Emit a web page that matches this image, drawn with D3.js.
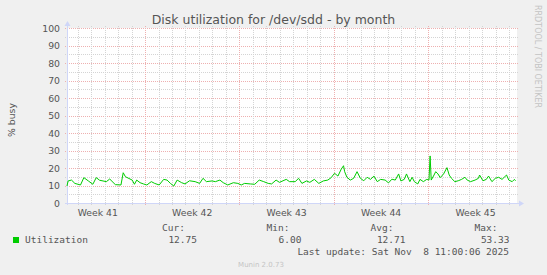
<!DOCTYPE html>
<html>
<head>
<meta charset="utf-8">
<script src="https://cdn.jsdelivr.net/npm/d3@7"></script>
<style>
  body { margin: 0; background: #f0f0f0; }
  svg { display: block; }
</style>
</head>
<body>
<div id="chart"></div>
<script>
// hours after the graph start and the % busy at that time
const hoursFromStart = [0, 2, 8, 14, 24, 30, 38, 46, 52, 58, 70, 76, 86, 96, 100, 104, 116, 120, 124, 130,
  136, 142, 150, 156, 164, 172, 178, 184, 190, 196, 204, 210, 218, 228, 236, 242, 248, 258, 264, 272,
  278, 286, 296, 304, 310, 316, 326, 334, 342, 350, 358, 364, 372, 378, 390, 396, 406, 412, 418, 426,
  432, 440, 448, 456, 464, 470, 476, 482, 488, 492, 494, 498, 504, 510, 516, 522, 528, 534, 540, 546,
  552, 558, 566, 572, 578, 584, 590, 594, 600, 604, 610, 614, 618, 624, 628, 634, 640, 644, 646, 648,
  652, 656, 660, 664, 670, 676, 680, 684, 690, 696, 702, 708, 712, 718, 726, 732, 734, 740, 746, 750,
  756, 762, 768, 774, 782, 786, 792, 796, 798];
const busyValues = [9.7, 12.6, 13.1, 11.2, 10.3, 14.5, 12.6, 10.7, 14.5, 13.0, 12.2, 13.7, 10.5, 10.3, 17.3, 15.0, 13.1, 10.7, 13.1, 11.6,
  10.9, 10.3, 12.2, 11.2, 10.3, 13.5, 13.1, 11.2, 9.7, 13.1, 11.6, 10.9, 12.7, 12.2, 11.2, 14.1, 12.2, 12.6, 12.2, 13.1,
  11.6, 10.3, 11.6, 11.2, 10.3, 11.2, 10.9, 10.7, 13.1, 12.2, 11.2, 10.9, 13.1, 11.8, 13.5, 12.2, 12.2, 14.1, 11.2, 12.6,
  11.8, 13.5, 11.2, 12.6, 13.1, 14.5, 17.0, 15.4, 19.4, 21.3, 17.9, 14.7, 13.1, 14.1, 17.9, 14.1, 12.7, 14.7, 13.5, 15.4,
  12.2, 13.5, 13.1, 11.5, 13.6, 13.1, 16.6, 12.6, 13.5, 16.6, 12.2, 14.7, 12.2, 10.9, 13.5, 12.2, 13.5, 13.1, 26.9, 13.1,
  15.4, 17.9, 16.6, 14.5, 16.6, 20.2, 16.0, 14.1, 12.2, 12.7, 13.5, 14.7, 13.1, 12.2, 13.1, 14.1, 16.0, 12.7, 13.5, 15.4,
  12.2, 14.1, 14.7, 13.5, 16.0, 13.1, 12.2, 13.5, 12.7];

const yTicks = [0, 10, 20, 30, 40, 50, 60, 70, 80, 90, 100];
const yMinorTicks = [5, 15, 25, 35, 45, 55, 65, 75, 85, 95];
const legendHeaders = ["Cur:", "Min:", "Avg:", "Max:"];
const legendValues = ["12.75", "6.00", "12.71", "53.33"];

const graphStart = Date.UTC(2025, 9, 7, 5, 12);
const graphHours = 800.6;

const WIDTH = 547, HEIGHT = 275;
const PLOT = {left: 67, right: 517, top: 28, bottom: 203};

let svg = d3.select("#chart")
  .append("svg")
  .attr("width", WIDTH)
  .attr("height", HEIGHT)
  .style("font-family", "'DejaVu Sans', sans-serif");

svg.append("rect").attr("width", WIDTH).attr("height", HEIGHT).attr("fill", "#f0f0f0");

let xScale = d3.scaleUtc()
  .domain([new Date(graphStart), new Date(graphStart + graphHours * 3600e3)])
  .range([PLOT.left, PLOT.right]);
let yScale = d3.scaleLinear()
  .domain([0, 100])
  .range([PLOT.bottom, PLOT.top]);

// white canvas
svg.append("rect")
  .attr("x", PLOT.left).attr("y", PLOT.top)
  .attr("width", PLOT.right - PLOT.left).attr("height", PLOT.bottom - PLOT.top)
  .attr("fill", "#ffffff");

let grid = svg.append("g").attr("shape-rendering", "crispEdges");
const crisp = v => Math.round(v) + 0.5;
const MINOR = "#d4d4d4", MAJOR = "#eeb0b0";

// horizontal grid, minor first then major
grid.selectAll(".hminor").data(yMinorTicks).join("line")
  .attr("x1", PLOT.left - 2).attr("x2", PLOT.right + 2)
  .attr("y1", d => crisp(yScale(d))).attr("y2", d => crisp(yScale(d)))
  .attr("stroke", MINOR).attr("stroke-dasharray", "1,1");
grid.selectAll(".hmajor").data(yTicks).join("line")
  .attr("x1", PLOT.left - 2).attr("x2", PLOT.right + 2)
  .attr("y1", d => crisp(yScale(d))).attr("y2", d => crisp(yScale(d)))
  .attr("stroke", MAJOR).attr("stroke-dasharray", "1,1");

// vertical grid: every day, weeks in red
let [t0, t1] = xScale.domain();
let days = d3.utcDay.range(t0, t1).filter(d => d.getUTCDay() !== 1);
let weeks = d3.utcMonday.range(t0, t1);
grid.selectAll(".vminor").data(days).join("line")
  .attr("x1", d => crisp(xScale(d))).attr("x2", d => crisp(xScale(d)))
  .attr("y1", PLOT.top - 2).attr("y2", PLOT.bottom + 2)
  .attr("stroke", MINOR).attr("stroke-dasharray", "1,1");
grid.selectAll(".vmajor").data(weeks).join("line")
  .attr("x1", d => crisp(xScale(d))).attr("x2", d => crisp(xScale(d)))
  .attr("y1", PLOT.top - 2).attr("y2", PLOT.bottom + 2)
  .attr("stroke", MAJOR).attr("stroke-dasharray", "1,1");

// axes with arrows
const AXIS = "#cfd6f8";
grid.append("line")
  .attr("x1", PLOT.left + 0.5).attr("x2", PLOT.left + 0.5)
  .attr("y1", PLOT.bottom + 2).attr("y2", PLOT.top - 4)
  .attr("stroke", AXIS);
grid.append("line")
  .attr("x1", PLOT.left - 2).attr("x2", PLOT.right + 4)
  .attr("y1", PLOT.bottom + 0.5).attr("y2", PLOT.bottom + 0.5)
  .attr("stroke", AXIS);
svg.append("path")
  .attr("d", `M${PLOT.left - 2.5},${PLOT.top - 2} L${PLOT.left + 0.5},${PLOT.top - 7} L${PLOT.left + 3.5},${PLOT.top - 2} Z`)
  .attr("fill", AXIS);
svg.append("path")
  .attr("d", `M${PLOT.right + 2},${PLOT.bottom - 2.5} L${PLOT.right + 7},${PLOT.bottom + 0.5} L${PLOT.right + 2},${PLOT.bottom + 3.5} Z`)
  .attr("fill", AXIS);

// y labels
svg.append("g").selectAll("text").data(yTicks).join("text")
  .attr("x", PLOT.left - 7)
  .attr("y", d => yScale(d) + 3.5)
  .attr("text-anchor", "end")
  .attr("font-size", "9.3px")
  .attr("fill", "#555")
  .text(d => d);

// week labels in the middle of each week
let weekFormat = d3.utcFormat("Week %V");
let labelWeeks = d3.utcMonday.range(d3.utcMonday.floor(t0), t1)
  .map(d => new Date(+d + 3.5 * 864e5))
  .filter(d => d >= t0 && d <= t1);
svg.append("g").selectAll("text").data(labelWeeks).join("text")
  .attr("x", d => xScale(d))
  .attr("y", 216)
  .attr("text-anchor", "middle")
  .attr("font-size", "9.3px")
  .attr("fill", "#555")
  .text(d => weekFormat(new Date(+d - 3.5 * 864e5)));

// the data line
let points = hoursFromStart.map((h, i) => ({t: new Date(graphStart + h * 3600e3), v: busyValues[i]}));
svg.append("path")
  .datum(points)
  .attr("fill", "none")
  .attr("stroke", "#00cc00")
  .attr("stroke-width", 1)
  .attr("d", d3.line().x(d => xScale(d.t)).y(d => yScale(d.v)));

// title and side texts
svg.append("text")
  .attr("x", WIDTH / 2).attr("y", 24)
  .attr("text-anchor", "middle")
  .attr("font-size", "12.5px")
  .attr("fill", "#555")
  .text("Disk utilization for /dev/sdd - by month");

svg.append("text")
  .attr("transform", `translate(15, 120) rotate(-90)`)
  .attr("text-anchor", "middle")
  .attr("font-size", "9.3px")
  .attr("fill", "#555")
  .text("% busy");

svg.append("text")
  .attr("transform", "translate(535, 5) rotate(90)")
  .attr("text-anchor", "start")
  .attr("font-size", "8px")
  .attr("fill", "#c4c4c4")
  .text("RRDTOOL / TOBI OETIKER");

// legend
let legend = svg.append("g")
  .style("font-family", "'DejaVu Sans Mono', monospace")
  .attr("font-size", "9.5px")
  .attr("fill", "#555");
legend.append("rect").attr("x", 13).attr("y", 237).attr("width", 6).attr("height", 6).attr("fill", "#00cc00");
legend.append("text").attr("x", 25).attr("y", 243).text("Utilization");
const colEnds = [185, 289.5, 393.5, 497.5];
legend.selectAll(".hdr").data(legendHeaders).join("text")
  .attr("x", (d, i) => colEnds[i]).attr("y", 231)
  .attr("text-anchor", "end").text(d => d);
legend.selectAll(".val").data(legendValues).join("text")
  .attr("x", (d, i) => colEnds[i] + 12).attr("y", 243)
  .attr("text-anchor", "end").text(d => d);
legend.append("text").attr("x", 509).attr("y", 255)
  .attr("text-anchor", "end")
  .attr("xml:space", "preserve")
  .style("white-space", "pre")
  .text("Last update: Sat Nov  8 11:00:06 2025");

svg.append("text")
  .attr("x", 261).attr("y", 266.5)
  .attr("text-anchor", "middle")
  .attr("font-size", "7px")
  .attr("fill", "#c4c4c4")
  .text("Munin 2.0.73");
</script>
</body>
</html>
